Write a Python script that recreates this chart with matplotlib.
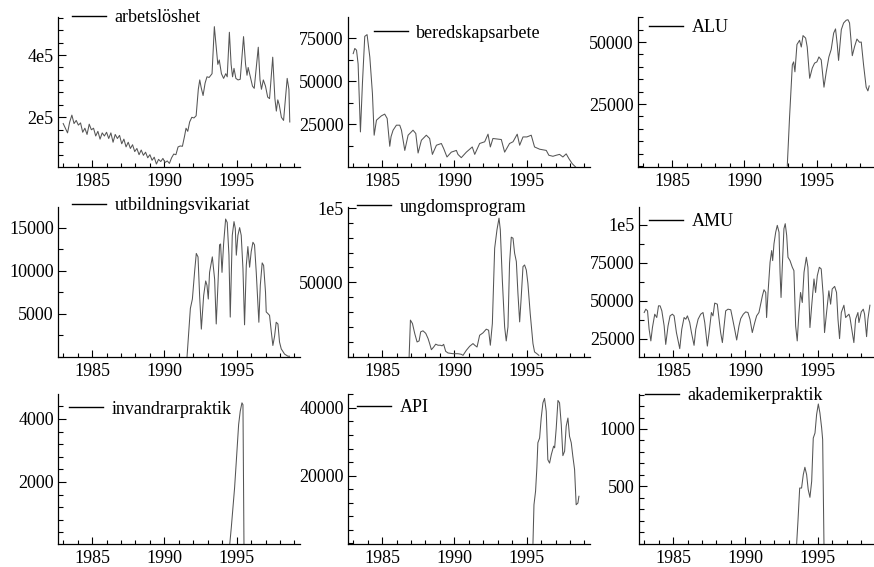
import matplotlib
matplotlib.use("Agg")
import matplotlib.pyplot as plt
from matplotlib.lines import Line2D
from matplotlib.ticker import MultipleLocator

plt.rcParams['font.family'] = ['Liberation Serif', 'DejaVu Serif']

# ---------------- data (decimal year, value) ----------------
arbetsloshet_t = [1983.00, 1983.15, 1983.30, 1983.45, 1983.60, 1983.75, 1983.90, 1984.05, 1984.20, 1984.35,
                  1984.50, 1984.65, 1984.80, 1984.95, 1985.10, 1985.25, 1985.40, 1985.55, 1985.70, 1985.85,
                  1986.00, 1986.15, 1986.30, 1986.45, 1986.60, 1986.75, 1986.90, 1987.05, 1987.20, 1987.35,
                  1987.50, 1987.65, 1987.80, 1987.95, 1988.10, 1988.25, 1988.40, 1988.55, 1988.70, 1988.85,
                  1989.00, 1989.15, 1989.30, 1989.45, 1989.60, 1989.75, 1989.90, 1990.05, 1990.20, 1990.35,
                  1990.50, 1990.65, 1990.80, 1990.95, 1991.10, 1991.25, 1991.40, 1991.50, 1991.62, 1991.75,
                  1991.90, 1992.05, 1992.20, 1992.35, 1992.45, 1992.55, 1992.68, 1992.82, 1992.95, 1993.10,
                  1993.30, 1993.46, 1993.60, 1993.70, 1993.80, 1993.95, 1994.10, 1994.25, 1994.35, 1994.50,
                  1994.62, 1994.72, 1994.82, 1994.95, 1995.10, 1995.25, 1995.48, 1995.62, 1995.72, 1995.80,
                  1995.95, 1996.10, 1996.22, 1996.50, 1996.62, 1996.72, 1996.85, 1997.00, 1997.15, 1997.28,
                  1997.50, 1997.65, 1997.75, 1997.85, 1997.95, 1998.10, 1998.25, 1998.50, 1998.62, 1998.68]
arbetsloshet_v = [180e3, 165e3, 150e3, 185e3, 207e3, 180e3, 190e3, 175e3, 182e3, 152e3,
                  165e3, 145e3, 178e3, 160e3, 165e3, 140e3, 155e3, 130e3, 150e3, 140e3,
                  152e3, 132e3, 150e3, 120e3, 145e3, 132e3, 142e3, 115e3, 130e3, 105e3,
                  120e3, 100e3, 112e3, 90e3, 100e3, 80e3, 95e3, 78e3, 88e3, 70e3,
                  80e3, 62e3, 72e3, 50e3, 65e3, 58e3, 68e3, 55e3, 60e3, 52e3,
                  70e3, 82e3, 80e3, 105e3, 108e3, 107e3, 140e3, 165e3, 155e3, 185e3,
                  200e3, 198e3, 205e3, 290e3, 320e3, 295e3, 270e3, 310e3, 330e3, 328e3,
                  340e3, 491e3, 420e3, 370e3, 384e3, 340e3, 325e3, 340e3, 330e3, 473e3,
                  370e3, 330e3, 357e3, 325e3, 320e3, 322e3, 459e3, 370e3, 335e3, 360e3,
                  330e3, 300e3, 293e3, 425e3, 320e3, 290e3, 320e3, 300e3, 265e3, 260e3,
                  393e3, 260e3, 220e3, 256e3, 240e3, 200e3, 190e3, 325e3, 290e3, 185e3]

beredskap_t = [1983.00, 1983.11, 1983.23, 1983.34, 1983.50, 1983.64, 1983.80, 1983.96, 1984.15, 1984.33,
               1984.45, 1984.61, 1984.95, 1985.18, 1985.35, 1985.53, 1985.62, 1985.76, 1985.99, 1986.22,
               1986.34, 1986.57, 1986.80, 1987.14, 1987.33, 1987.49, 1987.72, 1988.06, 1988.29, 1988.48,
               1988.76, 1989.10, 1989.26, 1989.49, 1989.79, 1990.14, 1990.25, 1990.48, 1990.83, 1991.24,
               1991.41, 1991.75, 1992.10, 1992.33, 1992.49, 1992.67, 1993.25, 1993.48, 1993.82, 1994.06,
               1994.35, 1994.52, 1994.75, 1995.02, 1995.32, 1995.55, 1995.90, 1996.36, 1996.54, 1996.82,
               1997.05, 1997.28, 1997.51, 1997.74, 1997.93, 1998.16, 1998.39]
beredskap_v = [66e3, 69e3, 68e3, 60e3, 20.7e3, 49e3, 76e3, 77e3, 64e3, 43e3,
               18.8e3, 27.5e3, 30e3, 31e3, 28.5e3, 12.4e3, 18e3, 21.7e3, 24.6e3, 24.6e3,
               21.7e3, 10e3, 18.8e3, 21.7e3, 19.8e3, 8.5e3, 15.9e3, 18.8e3, 16.9e3, 7.7e3,
               13e3, 14e3, 11.1e3, 6.2e3, 9e3, 10e3, 7.7e3, 5.8e3, 9e3, 12e3,
               7.7e3, 14e3, 15e3, 19.4e3, 12e3, 16.9e3, 16.3e3, 9e3, 14e3, 15e3,
               19.4e3, 13e3, 17.8e3, 17.8e3, 18.8e3, 12e3, 10.7e3, 10e3, 7.2e3, 6.6e3,
               7.2e3, 7.7e3, 6.2e3, 8e3, 5.2e3, 2.3e3, 0.4e3]

alu_t = [1992.97, 1993.13, 1993.32, 1993.41, 1993.50, 1993.64, 1993.82, 1993.94, 1994.06, 1994.24,
         1994.35, 1994.52, 1994.70, 1994.86, 1995.02, 1995.16, 1995.32, 1995.51, 1995.67, 1995.85,
         1996.01, 1996.18, 1996.31, 1996.43, 1996.52, 1996.71, 1996.87, 1997.05, 1997.17, 1997.28,
         1997.47, 1997.63, 1997.79, 1997.97, 1998.09, 1998.25, 1998.43, 1998.55, 1998.64]
alu_v = [0, 19.9e3, 40.8e3, 42e3, 38e3, 49e3, 50.7e3, 48e3, 52.6e3, 51.6e3,
         48e3, 35.4e3, 39.5e3, 41.5e3, 42e3, 44e3, 42.8e3, 31.8e3, 38e3, 44e3,
         47e3, 53.6e3, 55.3e3, 49e3, 42.6e3, 55e3, 57.7e3, 58.8e3, 59e3, 57.7e3,
         44.5e3, 48.2e3, 51.2e3, 49.9e3, 50e3, 40.8e3, 31.8e3, 30.3e3, 32.3e3]

utbildning_t = [1991.57, 1991.80, 1991.94, 1992.10, 1992.21, 1992.33, 1992.44, 1992.56, 1992.72, 1992.86,
                1992.95, 1993.04, 1993.13, 1993.32, 1993.48, 1993.59, 1993.71, 1993.82, 1993.89, 1993.99,
                1994.10, 1994.24, 1994.35, 1994.47, 1994.56, 1994.70, 1994.82, 1994.91, 1994.98, 1995.09,
                1995.21, 1995.32, 1995.44, 1995.55, 1995.67, 1995.78, 1995.90, 1996.01, 1996.13, 1996.24,
                1996.36, 1996.54, 1996.64, 1996.77, 1996.87, 1997.00, 1997.05, 1997.17, 1997.28, 1997.40,
                1997.51, 1997.63, 1997.74, 1997.86, 1997.97, 1998.09, 1998.32, 1998.55, 1998.66]
utbildning_v = [0, 5.6e3, 6.7e3, 10e3, 12e3, 11.6e3, 7.1e3, 3.2e3, 7.1e3, 8.8e3,
                8.3e3, 6.7e3, 9.8e3, 11.6e3, 9e3, 3.8e3, 8.4e3, 13e3, 13.1e3, 9.8e3,
                13.1e3, 16e3, 15.6e3, 11.8e3, 4.6e3, 14.1e3, 15.7e3, 14.9e3, 11.8e3, 14.1e3,
                15e3, 14.1e3, 10.2e3, 3.7e3, 10.6e3, 12.8e3, 10.4e3, 12.2e3, 13.3e3, 13e3,
                9.8e3, 4e3, 8.3e3, 10.9e3, 10.6e3, 7.5e3, 5.2e3, 5e3, 4.8e3, 2.9e3,
                1.3e3, 2.4e3, 4e3, 3.8e3, 1.7e3, 0.9e3, 0.3e3, 0.05e3, 0.05e3]

ungdom_t = [1986.87, 1986.96, 1987.10, 1987.26, 1987.42, 1987.56, 1987.67, 1987.83, 1988.02, 1988.18,
            1988.29, 1988.41, 1988.57, 1988.71, 1988.87, 1989.03, 1989.15, 1989.26, 1989.40, 1989.56,
            1989.91, 1990.25, 1990.48, 1990.60, 1990.83, 1991.06, 1991.29, 1991.41, 1991.57, 1991.75,
            1991.98, 1992.21, 1992.37, 1992.49, 1992.63, 1992.79, 1992.95, 1993.09, 1993.18, 1993.32,
            1993.48, 1993.59, 1993.71, 1993.82, 1993.94, 1994.06, 1994.17, 1994.29, 1994.40, 1994.52,
            1994.63, 1994.75, 1994.86, 1994.98, 1995.09, 1995.25, 1995.44, 1995.55, 1995.71, 1995.85]
ungdom_v = [0, 24.6e3, 22.3e3, 15.5e3, 9.9e3, 10.6e3, 16.7e3, 17.4e3, 15.7e3, 12.2e3,
            8.8e3, 4.7e3, 6.5e3, 8.4e3, 7.7e3, 7.7e3, 7.3e3, 8.3e3, 3.6e3, 2.5e3,
            2e3, 2e3, 1.6e3, 0.9e3, 4.3e3, 7e3, 8.8e3, 7.7e3, 6.5e3, 14.4e3,
            16e3, 18.5e3, 17.8e3, 7.7e3, 22.3e3, 73e3, 85.4e3, 93.2e3, 85.4e3, 51.6e3,
            20e3, 10.6e3, 20e3, 62.8e3, 80.4e3, 79.7e3, 69.6e3, 64e3, 42.6e3, 23.4e3,
            40.4e3, 60.6e3, 61.7e3, 58.3e3, 49.3e3, 29e3, 8.8e3, 3.2e3, 2e3, 0.9e3]

amu_t = [1983.00, 1983.11, 1983.23, 1983.34, 1983.46, 1983.57, 1983.73, 1983.87, 1983.99, 1984.10,
         1984.22, 1984.38, 1984.49, 1984.65, 1984.79, 1984.95, 1985.07, 1985.23, 1985.46, 1985.60,
         1985.76, 1985.88, 1985.99, 1986.15, 1986.27, 1986.45, 1986.57, 1986.73, 1986.91, 1987.07,
         1987.19, 1987.37, 1987.49, 1987.65, 1987.76, 1987.88, 1988.06, 1988.18, 1988.29, 1988.41,
         1988.53, 1988.64, 1988.80, 1988.99, 1989.10, 1989.26, 1989.40, 1989.56, 1989.68, 1989.86,
         1990.02, 1990.18, 1990.32, 1990.48, 1990.65, 1990.78, 1990.94, 1991.06, 1991.18, 1991.29,
         1991.41, 1991.47, 1991.57, 1991.71, 1991.82, 1991.89, 1991.98, 1992.10, 1992.21, 1992.33,
         1992.40, 1992.47, 1992.56, 1992.67, 1992.76, 1992.86, 1992.95, 1993.09, 1993.25, 1993.36,
         1993.48, 1993.59, 1993.71, 1993.82, 1993.94, 1994.06, 1994.22, 1994.33, 1994.47, 1994.59,
         1994.75, 1994.86, 1994.98, 1995.12, 1995.25, 1995.39, 1995.48, 1995.62, 1995.78, 1995.90,
         1996.01, 1996.18, 1996.31, 1996.41, 1996.52, 1996.64, 1996.82, 1996.94, 1997.17, 1997.24,
         1997.40, 1997.51, 1997.63, 1997.79, 1997.86, 1998.02, 1998.16, 1998.25, 1998.39, 1998.48,
         1998.62]
amu_v = [42.2e3, 44.4e3, 43.3e3, 31.2e3, 23.5e3, 32.3e3, 41.1e3, 38.9e3, 46.6e3, 46.6e3,
         43.3e3, 33.4e3, 21.2e3, 33.4e3, 40e3, 41.1e3, 40e3, 29e3, 18.4e3, 31.2e3,
         38.9e3, 37.8e3, 40e3, 35.6e3, 29e3, 20.6e3, 31.2e3, 37.8e3, 41.1e3, 42.2e3,
         35.6e3, 20.1e3, 29e3, 42.2e3, 40e3, 48.4e3, 47.7e3, 37.8e3, 29e3, 22.4e3,
         33.4e3, 43.3e3, 44.4e3, 44e3, 38.9e3, 31.2e3, 24.1e3, 33.4e3, 38.2e3, 41.1e3,
         42.6e3, 42.2e3, 37.8e3, 29e3, 35.6e3, 40e3, 42.2e3, 47.7e3, 53.2e3, 57.2e3,
         55.4e3, 38.9e3, 55.4e3, 75.3e3, 83e3, 76.4e3, 87.4e3, 95.1e3, 99.6e3, 95.1e3,
         68.7e3, 52.1e3, 73.1e3, 97.4e3, 100.7e3, 93e3, 78.6e3, 76.4e3, 72e3, 69.8e3,
         33.4e3, 23.5e3, 42.2e3, 55.4e3, 48.8e3, 68.7e3, 78.6e3, 72e3, 32.3e3, 46.6e3,
         64.3e3, 55.4e3, 66.5e3, 72e3, 70.9e3, 53.2e3, 29e3, 42.2e3, 56.5e3, 47.7e3,
         57.7e3, 59.4e3, 55.4e3, 37.8e3, 25e3, 42.2e3, 47e3, 38.9e3, 41.1e3, 38.9e3,
         29e3, 22.4e3, 37.8e3, 42.2e3, 35.6e3, 42.6e3, 44.4e3, 41.1e3, 26.3e3, 37.8e3,
         47e3]

invandrar_t = [1994.52, 1994.63, 1994.86, 1994.98, 1995.14, 1995.25, 1995.37, 1995.44, 1995.51]
invandrar_v = [0, 540, 1810, 2660, 3820, 4240, 4510, 4450, 0]

api_t = [1995.44, 1995.51, 1995.62, 1995.71, 1995.78, 1995.90, 1996.01, 1996.13, 1996.24, 1996.36,
         1996.47, 1996.59, 1996.71, 1996.87, 1996.94, 1997.05, 1997.17, 1997.28, 1997.40, 1997.51,
         1997.63, 1997.74, 1997.86, 1997.97, 1998.09, 1998.20, 1998.32, 1998.43, 1998.55, 1998.62]
api_v = [0, 11.4e3, 15.4e3, 22.3e3, 29.7e3, 31.1e3, 37e3, 41.5e3, 42.8e3, 39e3,
         24.7e3, 23.7e3, 26.2e3, 28.7e3, 28.2e3, 34e3, 42.2e3, 41.5e3, 35e3, 25.9e3,
         27.2e3, 34.6e3, 37e3, 31.6e3, 29.7e3, 25.7e3, 21.8e3, 11.4e3, 11.9e3, 13.9e3]

akademiker_t = [1993.55, 1993.64, 1993.76, 1993.89, 1994.01, 1994.12, 1994.24, 1994.35, 1994.47, 1994.59,
                1994.70, 1994.82, 1994.93, 1995.05, 1995.16, 1995.28, 1995.35, 1995.44]
akademiker_v = [0, 195, 485, 485, 602, 666, 602, 471, 404, 544,
                921, 965, 1125, 1218, 1140, 1009, 907, 0]

names = ["arbetslöshet", "beredskapsarbete", "ALU",
         "utbildningsvikariat", "ungdomsprogram", "AMU",
         "invandrarpraktik", "API", "akademikerpraktik"]
series_t = [arbetsloshet_t, beredskap_t, alu_t, utbildning_t, ungdom_t, amu_t,
            invandrar_t, api_t, akademiker_t]
series_v = [arbetsloshet_v, beredskap_v, alu_v, utbildning_v, ungdom_v, amu_v,
            invandrar_v, api_v, akademiker_v]

x_ticks = [1985, 1990, 1995]
x_tick_labels = ["1985", "1990", "1995"]
y_ticks = [[2e5, 4e5], [25000, 50000, 75000], [25000, 50000],
           [5000, 10000, 15000], [50000, 1e5], [25000, 50000, 75000, 1e5],
           [2000, 4000], [20000, 40000], [500, 1000]]
y_tick_labels = [["2e5", "4e5"], ["25000", "50000", "75000"], ["25000", "50000"],
                 ["5000", "10000", "15000"], ["50000", "1e5"], ["25000", "50000", "75000", "1e5"],
                 ["2000", "4000"], ["20000", "40000"], ["500", "1000"]]

# ---------------- layout ----------------
W, H = 874, 567
fig = plt.figure(figsize=(W / 100, H / 100), dpi=100)

# (left px, top px, width px)
boxes = [(58, 17, 242), (348, 17, 242), (638, 17, 235),
         (58, 207, 242), (348, 207, 242), (639, 207, 234),
         (58, 394, 242), (348, 394, 242), (639, 394, 234)]
panel_h = 150
px_per_year = 14.45
x0 = 1982.64
ylims = [(40500, 522000), (400, 87200), (-390, 60100),
         (-40, 17400), (-220, 100700), (12900, 111700),
         (33, 4790), (-190, 44100), (-3, 1305)]
minor_steps = [40000, 12500, 5000, 2500, 10000, 12500, 400, 4000, 100]
# legend anchor (px of line start, px y)
leg_pos = [(72, 18), (374, 33), (649, 28),
           (72, 206), (357, 207), (649, 222),
           (69, 409), (357, 408), (645, 396)]

FS = 13
for i in range(9):
    l, t, w = boxes[i]
    ax = fig.add_axes([l / W, 1 - (t + panel_h) / H, w / W, panel_h / H])
    ax.plot(series_t[i], series_v[i], color='#555555', lw=0.75)
    ax.set_xlim(x0, x0 + w / px_per_year)
    ax.set_ylim(*ylims[i])
    for s in ['top', 'right']:
        ax.spines[s].set_visible(False)
    for s in ['left', 'bottom']:
        ax.spines[s].set_linewidth(0.9)
    ax.set_xticks(x_ticks)
    ax.set_xticklabels(x_tick_labels)
    ax.xaxis.set_minor_locator(MultipleLocator(1))
    ax.set_yticks(y_ticks[i])
    ax.set_yticklabels(y_tick_labels[i])
    ax.yaxis.set_minor_locator(MultipleLocator(minor_steps[i]))
    ax.tick_params(axis='x', which='major', direction='in', length=5.2, width=0.8, pad=4, labelsize=FS)
    ax.tick_params(axis='x', which='minor', direction='in', length=2.6, width=0.8)
    ax.tick_params(axis='y', which='major', direction='in', length=6, width=0.8, pad=3, labelsize=FS)
    ax.tick_params(axis='y', which='minor', direction='in', length=3.6, width=0.8)
    lx, ly = leg_pos[i]
    ax.legend([Line2D([], [], color='black', lw=1.0)], [names[i]],
              loc='center left', bbox_to_anchor=(lx / W, 1 - ly / H),
              bbox_transform=fig.transFigure, frameon=False, fontsize=FS,
              handlelength=1.9, handletextpad=0.45, borderpad=0, borderaxespad=0)

fig.savefig("out.png", dpi=100)
